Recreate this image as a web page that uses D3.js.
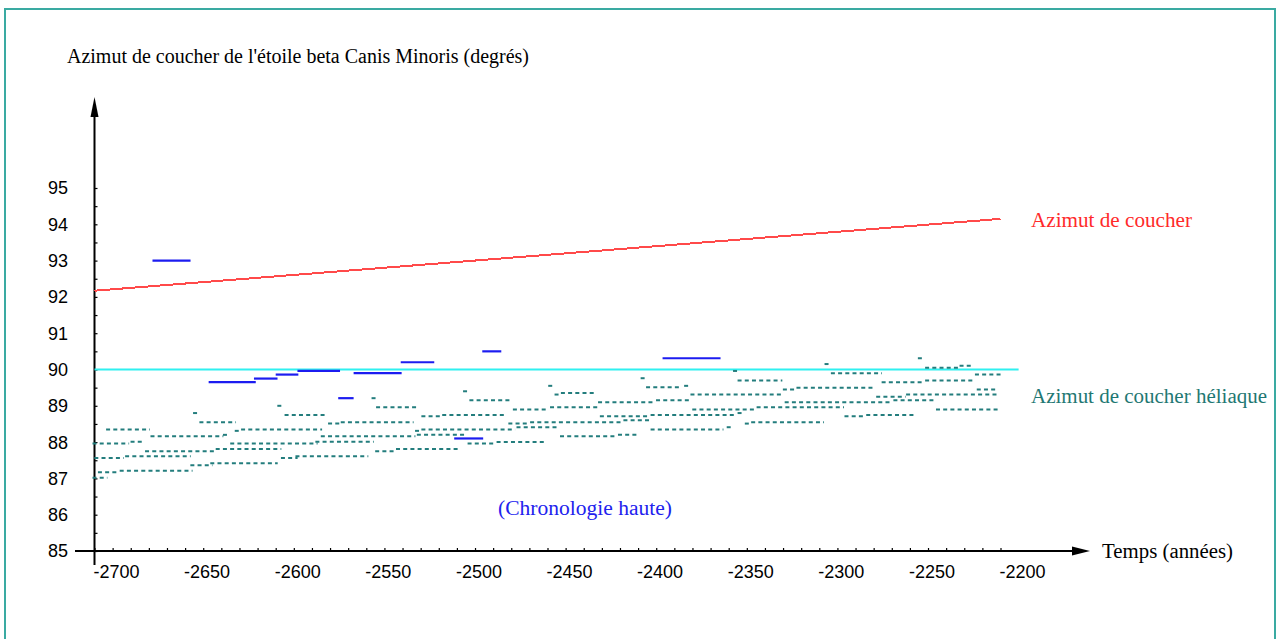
<!DOCTYPE html>
<html>
<head>
<meta charset="utf-8">
<script src="https://cdn.jsdelivr.net/npm/d3@7/dist/d3.min.js"></script>
<style>
  html, body { margin: 0; padding: 0; background: #ffffff; }
  svg { display: block; }
</style>
</head>
<body>
<script>
// ---------- DATA ----------
const xTickLabels = [-2700, -2650, -2600, -2550, -2500, -2450, -2400, -2350, -2300, -2250, -2200];
const yTickLabels = [85, 86, 87, 88, 89, 90, 91, 92, 93, 94, 95];

// Azimut de coucher (red)
const settingYears = [-2700, -2200];
const settingValues = [92.17, 94.15];

// Reference azimuth 90° (cyan)
const refYears = [-2700, -2190];
const refValues = [90, 90];

// Chronologie haute (blue segments): [start year, end year, azimuth]
const highChronology = [
  [-2668, -2647, 93.00],
  [-2637, -2611, 89.65],
  [-2612, -2599, 89.75],
  [-2600, -2587.5, 89.86],
  [-2588, -2564.5, 89.96],
  [-2565.5, -2557, 89.21],
  [-2557, -2530.5, 89.90],
  [-2531, -2512.5, 90.20],
  [-2486, -2475.5, 90.50],
  [-2501.5, -2485.5, 88.10],
  [-2386.5, -2354.5, 90.31]
];

// Azimut de coucher héliaque (teal dotted segments): [start year, end year, azimuth]
const heliacal = [
  [-2598, -2598, 89.00], [-2546, -2546, 89.21], [-2543.5, -2522, 88.96],
  [-2644.5, -2644.5, 88.80], [-2594, -2573, 88.75], [-2641, -2623, 88.55],
  [-2570, -2564.5, 88.51], [-2563, -2525, 88.55], [-2692.5, -2670.5, 88.35],
  [-2621.5, -2621.5, 88.31], [-2618, -2575.5, 88.35], [-2628, -2628, 88.20],
  [-2668, -2630, 88.16], [-2574, -2524, 88.16], [-2679, -2674, 88.01],
  [-2700, -2682, 87.96], [-2624, -2578, 87.96], [-2577, -2547, 88.01],
  [-2632, -2598, 87.81], [-2671, -2633.5, 87.75], [-2544, -2536, 87.75],
  [-2532.5, -2499, 87.81], [-2682, -2648, 87.61], [-2588, -2550, 87.61],
  [-2699, -2685, 87.56], [-2596, -2589, 87.56], [-2635, -2600, 87.42],
  [-2646, -2636, 87.36], [-2685, -2647, 87.21], [-2697, -2688, 87.17],
  [-2700, -2694, 87.02],
  [-2448.5, -2448.5, 89.55], [-2397.5, -2397.5, 89.76], [-2394.5, -2377, 89.51],
  [-2373.5, -2373.5, 89.55], [-2495.5, -2495.5, 89.40], [-2445, -2445, 89.31],
  [-2441.5, -2424.5, 89.35], [-2370, -2321, 89.31], [-2492, -2471, 89.15],
  [-2421, -2392, 89.10], [-2389, -2372.5, 89.15], [-2468, -2451, 88.90],
  [-2447.5, -2423, 88.96], [-2369, -2335.5, 88.90], [-2518.5, -2510, 88.71],
  [-2507, -2474, 88.75], [-2420, -2394.5, 88.71], [-2392, -2347.5, 88.75],
  [-2470.5, -2462.5, 88.51], [-2458.5, -2410, 88.55], [-2407, -2394.5, 88.60],
  [-2522, -2522, 88.31], [-2518.5, -2469, 88.35], [-2466, -2445, 88.41],
  [-2392, -2354, 88.35], [-2521, -2495.5, 88.20], [-2442, -2413.5, 88.16],
  [-2410, -2401, 88.20], [-2493, -2480, 87.96], [-2477, -2452, 88.00],
  [-2244.5, -2244.5, 90.31], [-2296, -2296, 90.15], [-2240.5, -2224, 90.05],
  [-2221.5, -2216, 90.10], [-2346.5, -2346.5, 89.96], [-2292.5, -2266.5, 89.90],
  [-2213, -2200, 89.86], [-2344, -2321.5, 89.70], [-2264.5, -2243.5, 89.65],
  [-2240.5, -2215, 89.70], [-2212, -2203, 89.45], [-2319, -2314.5, 89.45],
  [-2311.5, -2270, 89.50], [-2267.5, -2253.5, 89.25], [-2251, -2202, 89.31],
  [-2258, -2237, 89.15], [-2318, -2261, 89.10], [-2333.5, -2287.5, 88.96],
  [-2234.5, -2201, 88.90], [-2344, -2344, 88.80], [-2285, -2276.5, 88.71],
  [-2273, -2248, 88.75], [-2340, -2340, 88.51], [-2336.5, -2298.5, 88.55],
  [-2350, -2350, 88.41]
];

// ---------- CHART ----------
const W = 1276, H = 639;
const svg = d3.select("body").append("svg").attr("width", W).attr("height", H);

// frame
svg.append("rect").attr("x", 5).attr("y", 9).attr("width", 1270).attr("height", 700)
  .attr("fill", "none").attr("stroke", "#3aaaa2").attr("stroke-width", 2);

const x = d3.scaleLinear().domain([-2700, -2200]).range([94.5, 1000.5]);
const y = d3.scaleLinear().domain([85, 95]).range([551, 188]);

const serif = "'Liberation Serif', 'Times New Roman', serif";
const sans = "'Liberation Sans', Arial, sans-serif";

// minor ticks
const xMinor = d3.range(-2700, -2199, 10);
const yMinor = d3.range(85, 95.01, 0.5);
const gx = svg.append("g").attr("transform", `translate(0,${y(85)})`)
  .call(d3.axisBottom(x).tickValues(xMinor).tickSize(-3).tickFormat(""));
gx.select(".domain").remove();
gx.selectAll("line").attr("stroke", "#000").attr("stroke-width", 1.2);
const gy = svg.append("g").attr("transform", `translate(${x(-2700)},0)`)
  .call(d3.axisLeft(y).tickValues(yMinor).tickSize(-3).tickFormat(""));
gy.select(".domain").remove();
gy.selectAll("line").attr("stroke", "#000").attr("stroke-width", 1.2);

// axis lines
svg.append("line").attr("x1", 75).attr("x2", 1078).attr("y1", y(85)).attr("y2", y(85))
  .attr("stroke", "#000").attr("stroke-width", 2);
svg.append("line").attr("x1", x(-2700)).attr("x2", x(-2700)).attr("y1", 565).attr("y2", 110)
  .attr("stroke", "#000").attr("stroke-width", 2);
// arrowheads
svg.append("path").attr("d", `M1090,${y(85)} L1072,${y(85) - 4.5} L1072,${y(85) + 4.5} Z`).attr("fill", "#000");
svg.append("path").attr("d", `M${x(-2700)},97 L${x(-2700) - 4},117 L${x(-2700) + 4},117 Z`).attr("fill", "#000");

// tick labels
svg.append("g").selectAll("text").data(xTickLabels).join("text")
  .attr("x", d => x(d) - 1).attr("y", 578)
  .attr("font-family", sans).attr("font-size", 18).attr("fill", "#000")
  .text(d => d);
svg.append("g").selectAll("text").data(yTickLabels).join("text")
  .attr("x", 68).attr("y", d => y(d)).attr("dy", "0.36em").attr("text-anchor", "end")
  .attr("font-family", sans).attr("font-size", 18).attr("fill", "#000")
  .text(d => d);

// cyan reference line
const line = d3.line().x(d => x(d[0])).y(d => y(d[1]));
svg.append("path").datum(d3.zip(refYears, refValues)).attr("d", line)
  .attr("fill", "none").attr("stroke", "#2ff0f0").attr("stroke-width", 2.2);

// red setting azimuth
svg.append("path").datum(d3.zip(settingYears, settingValues)).attr("d", line)
  .attr("fill", "none").attr("stroke", "#ff4a4a").attr("stroke-width", 2)
  .attr("shape-rendering", "crispEdges");

// teal dotted heliacal segments
svg.append("g").selectAll("line").data(heliacal).join("line")
  .attr("x1", d => x(d[0]) - 2).attr("x2", d => x(d[1]) + 2)
  .attr("y1", d => y(d[2])).attr("y2", d => y(d[2]))
  .attr("stroke", "#237d7d").attr("stroke-width", 2)
  .attr("stroke-dasharray", "4 3.2");

// blue high chronology segments
svg.append("g").selectAll("line").data(highChronology).join("line")
  .attr("x1", d => x(d[0])).attr("x2", d => x(d[1]))
  .attr("y1", d => y(d[2])).attr("y2", d => y(d[2]))
  .attr("stroke", "#1c1cf0").attr("stroke-width", 2.2);

// texts
svg.append("text").attr("x", 67).attr("y", 63)
  .attr("font-family", serif).attr("font-size", 20).attr("fill", "#000")
  .attr("textLength", 462).attr("lengthAdjust", "spacingAndGlyphs")
  .text("Azimut de coucher de l'étoile beta Canis Minoris (degrés)");
svg.append("text").attr("x", 1031).attr("y", 226.5)
  .attr("font-family", serif).attr("font-size", 20).attr("fill", "#ff2a2a")
  .attr("textLength", 161).attr("lengthAdjust", "spacingAndGlyphs")
  .text("Azimut de coucher");
svg.append("text").attr("x", 1031).attr("y", 403)
  .attr("font-family", serif).attr("font-size", 20).attr("fill", "#1f7873")
  .attr("textLength", 236).attr("lengthAdjust", "spacingAndGlyphs")
  .text("Azimut de coucher héliaque");
svg.append("text").attr("x", 498).attr("y", 514.5)
  .attr("font-family", serif).attr("font-size", 20).attr("fill", "#2222ee")
  .attr("textLength", 174).attr("lengthAdjust", "spacingAndGlyphs")
  .text("(Chronologie haute)");
svg.append("text").attr("x", 1102).attr("y", 558)
  .attr("font-family", serif).attr("font-size", 20).attr("fill", "#000")
  .attr("textLength", 131).attr("lengthAdjust", "spacingAndGlyphs")
  .text("Temps (années)");
</script>
</body>
</html>
